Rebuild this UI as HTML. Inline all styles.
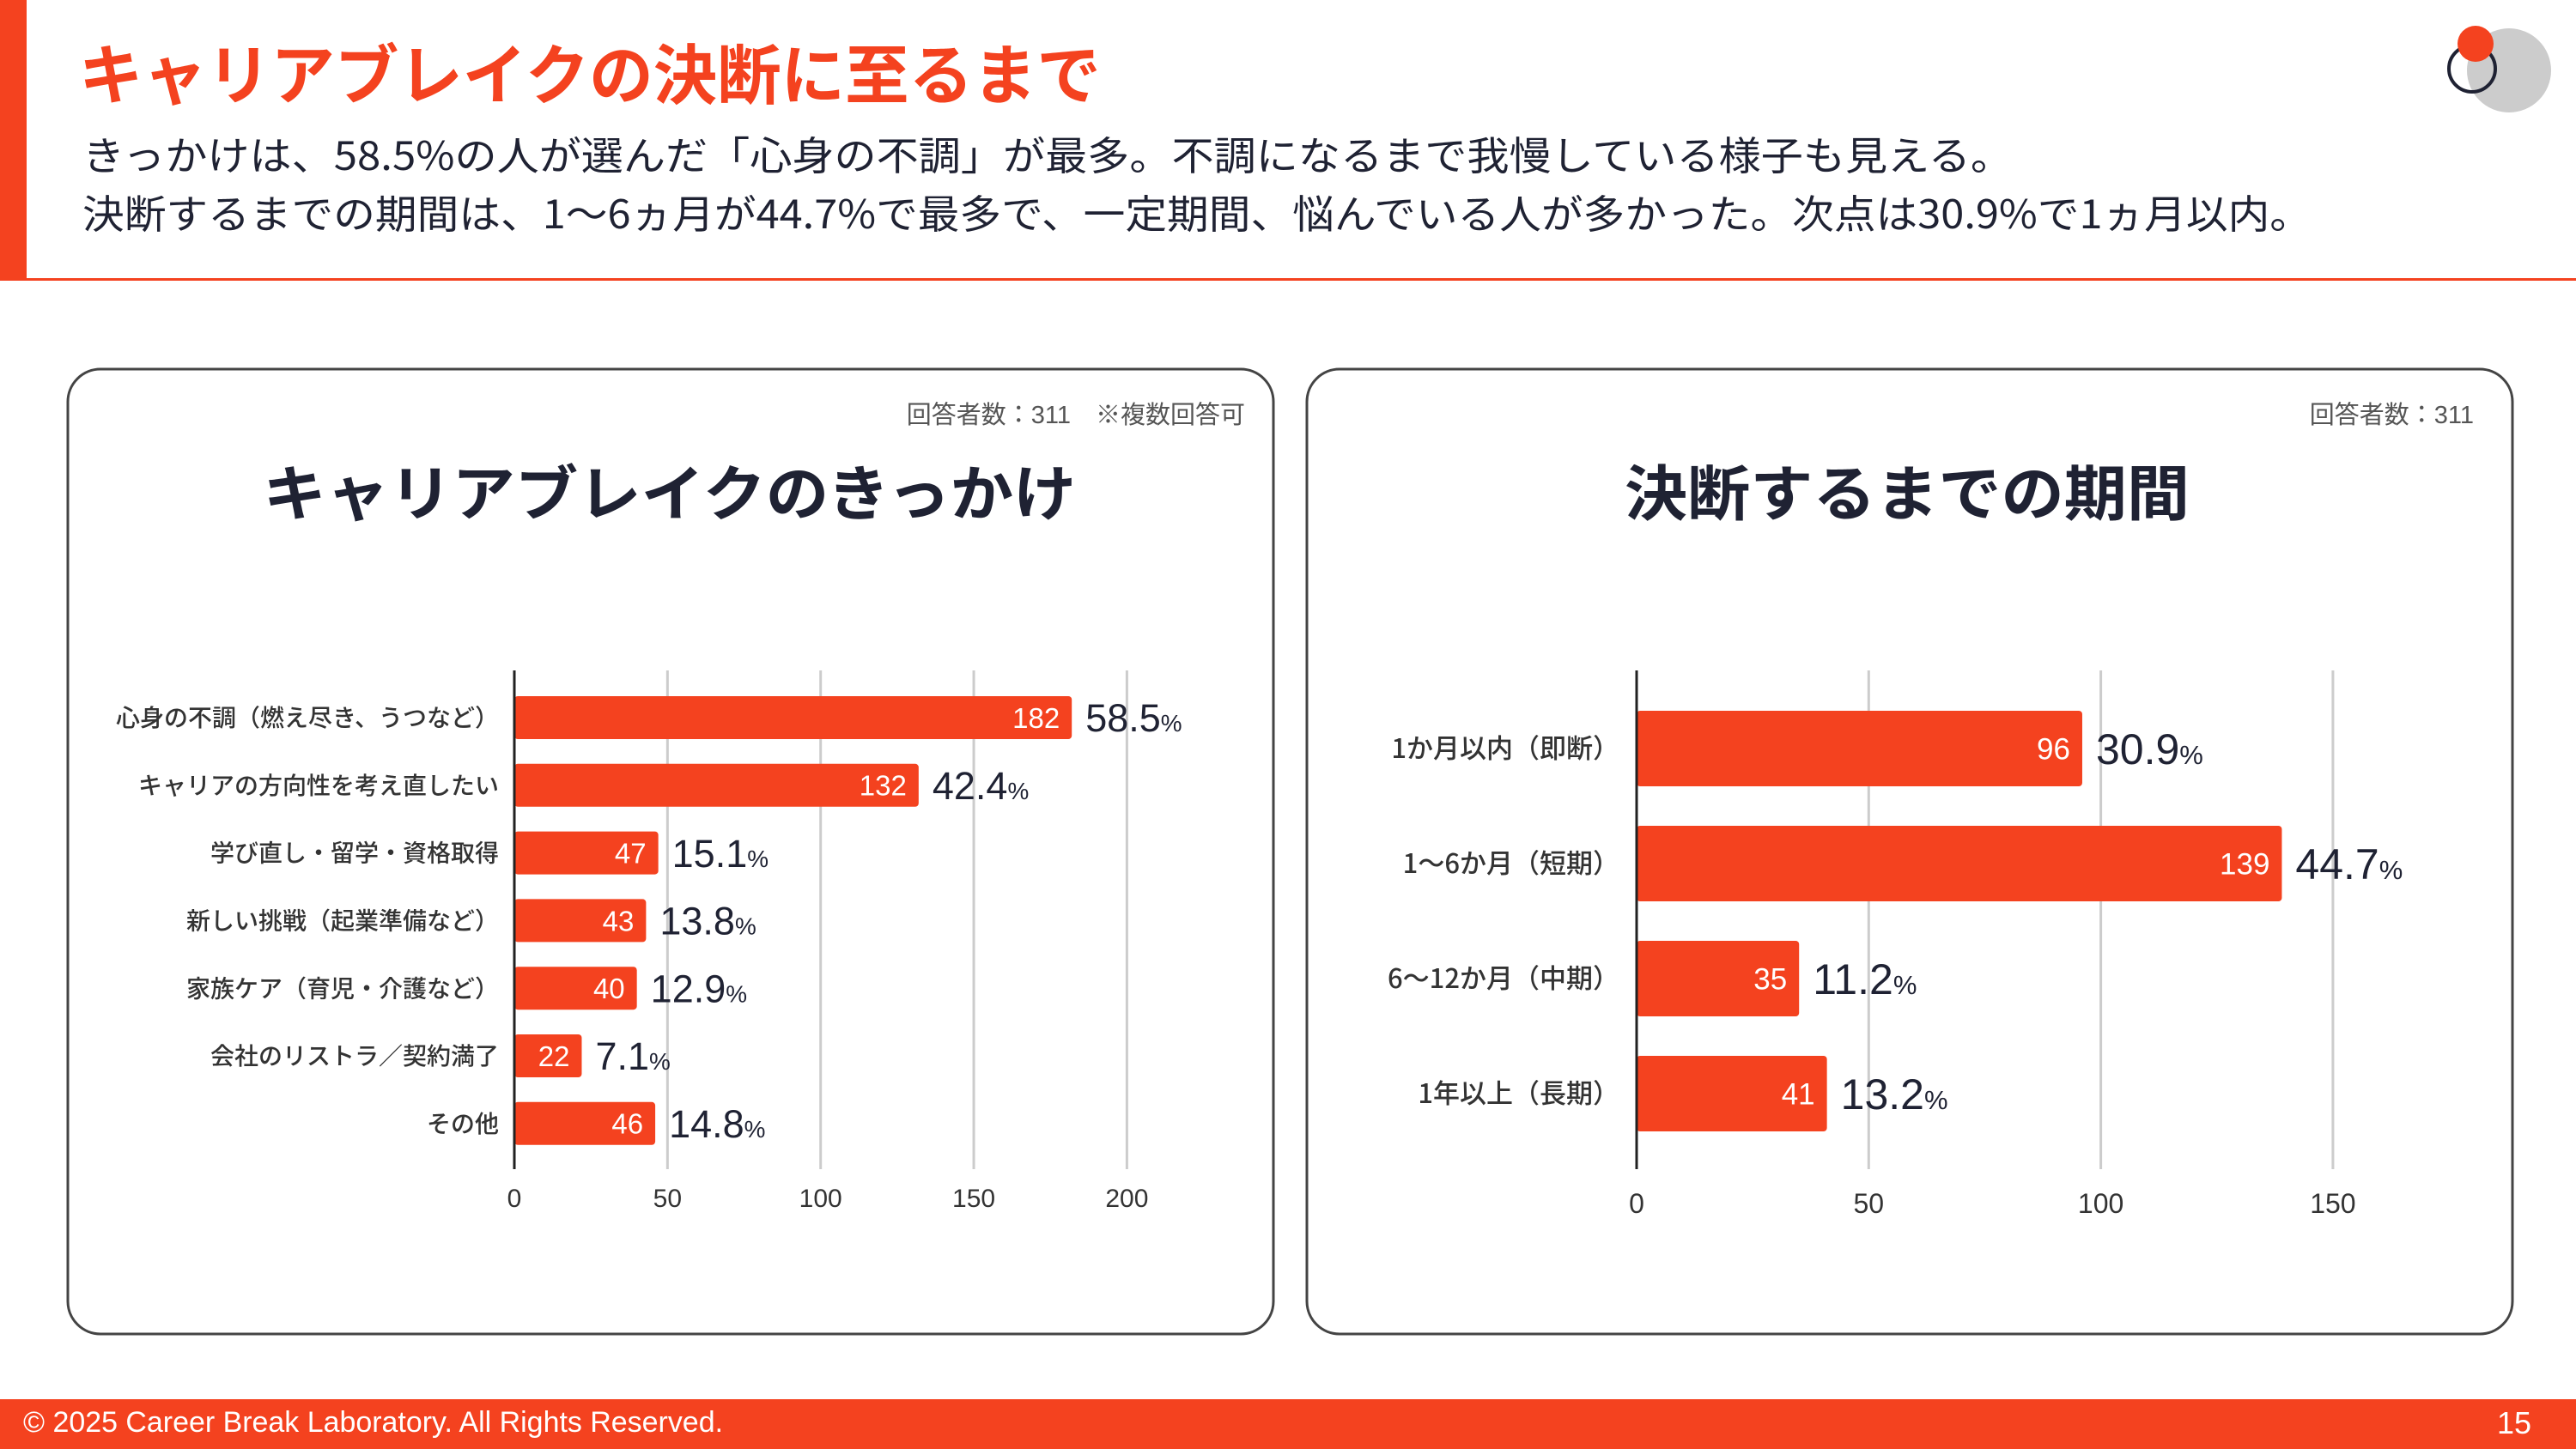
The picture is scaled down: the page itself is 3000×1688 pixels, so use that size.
<!DOCTYPE html>
<html><head><meta charset="utf-8"><style>
html,body{margin:0;padding:0;background:#fff}
svg{display:block;font-family:"Liberation Sans","Noto Sans CJK JP",sans-serif}
</style></head><body>
<svg id="s" width="3000" height="1688" viewBox="0 0 3000 1688" xmlns="http://www.w3.org/2000/svg">
<rect x="0" y="0" width="31" height="326" fill="#f4421f"/>
<rect x="0" y="324" width="3000" height="3" fill="#f4421f"/>
<text x="92" y="115" font-size="76" font-weight="bold" fill="#f4421f" textLength="1190" lengthAdjust="spacingAndGlyphs" font-family="Noto Sans CJK JP, sans-serif">キャリアブレイクの決断に至るまで</text>
<text x="96" y="198" font-size="46" fill="#1f2233" textLength="2248" lengthAdjust="spacingAndGlyphs" font-family="Noto Sans CJK JP, sans-serif">きっかけは、58.5%の人が選んだ「心身の不調」が最多。不調になるまで我慢している様子も見える。</text>
<text x="96" y="266" font-size="46" fill="#1f2233" textLength="2596" lengthAdjust="spacingAndGlyphs" font-family="Noto Sans CJK JP, sans-serif">決断するまでの期間は、1〜6ヵ月が44.7%で最多で、一定期間、悩んでいる人が多かった。次点は30.9%で1ヵ月以内。</text>
<g>
<circle cx="2922" cy="82" r="49" fill="#cccccc"/>
<circle cx="2879" cy="80" r="27" fill="none" stroke="#1f2233" stroke-width="4"/>
<circle cx="2883" cy="51" r="21" fill="#f4421f"/>
</g>
<rect x="79" y="430" width="1404" height="1124" rx="38" fill="#fff" stroke="#444" stroke-width="3"/>
<rect x="1522" y="430" width="1404" height="1124" rx="38" fill="#fff" stroke="#444" stroke-width="3"/>
<text x="1450" y="493" font-size="29" fill="#555" text-anchor="end">回答者数：311　※複数回答可</text>
<text x="2881" y="493" font-size="29" fill="#555" text-anchor="end">回答者数：311</text>
<text x="780" y="600" font-size="70" font-weight="bold" fill="#1f2233" text-anchor="middle" textLength="947" lengthAdjust="spacingAndGlyphs">キャリアブレイクのきっかけ</text>
<text x="2221" y="600" font-size="70" font-weight="bold" fill="#1f2233" text-anchor="middle" textLength="658" lengthAdjust="spacingAndGlyphs">決断するまでの期間</text>
<g id="left"></g>
<g id="right"></g>
<rect x="0" y="1630" width="3000" height="58" fill="#f4421f"/>
<text x="27" y="1668" font-size="34" fill="#fff" textLength="815" lengthAdjust="spacingAndGlyphs">© 2025 Career Break Laboratory. All Rights Reserved.</text>
<text x="2948" y="1670" font-size="36" fill="#fff" text-anchor="end">15</text>
</svg>
<script>
const leftCategories=["心身の不調（燃え尽き、うつなど）","キャリアの方向性を考え直したい","学び直し・留学・資格取得","新しい挑戦（起業準備など）","家族ケア（育児・介護など）","会社のリストラ／契約満了","その他"];
const leftValues=[182,132,47,43,40,22,46];
const leftPercents=["58.5","42.4","15.1","13.8","12.9","7.1","14.8"];
const leftTicks=[0,50,100,150,200];
const rightCategories=["1か月以内（即断）","1〜6か月（短期）","6〜12か月（中期）","1年以上（長期）"];
const rightValues=[96,139,35,41];
const rightPercents=["30.9","44.7","11.2","13.2"];
const rightTicks=[0,50,100,150];
const NS="http://www.w3.org/2000/svg";
function mk(parent,tag,attrs,text){const e=document.createElementNS(NS,tag);for(const k in attrs)e.setAttribute(k,attrs[k]);if(text!==undefined)e.textContent=text;parent.appendChild(e);return e;}
function chart(gid,cfg){
  const g=document.getElementById(gid);
  const x=v=>cfg.x0+v*cfg.pxPerUnit;
  const y=i=>cfg.firstY+cfg.step*i;
  cfg.ticks.forEach(t=>{
    if(t>0){const l=mk(g,'line',{x1:x(t),x2:x(t),y1:cfg.yTop,y2:cfg.yBottom,stroke:'#cccccc','stroke-width':3});
    
    }
    const tl=mk(g,'text',{x:x(t),y:cfg.tickY,'font-size':cfg.tickFs,fill:'#333','text-anchor':'middle'},String(t));
    
    
  });
  cfg.cats.forEach((c,i)=>{
    const v=cfg.vals[i],cy=y(i);
    const b=mk(g,'rect',{x:x(0),y:cy-cfg.barH/2,width:x(v)-x(0),height:cfg.barH,rx:4,fill:'#f4421f'});
    
    
    const cl=mk(g,'text',{x:cfg.x0-cfg.labelGap,y:cy+cfg.catFs*0.36,'font-size':cfg.catFs,'font-weight':'500',fill:'#333','text-anchor':'end','font-family':'Noto Sans CJK JP, sans-serif'},c);
    
    
    const vl=mk(g,'text',{x:x(v)-14,y:cy+cfg.valFs*0.36,'font-size':cfg.valFs,fill:'#fff','text-anchor':'end'},String(v));
    
    
    const pl=mk(g,'text',{x:x(v)+16,y:cy+cfg.pctFs*0.36,'font-size':cfg.pctFs,fill:'#1f2233'});
    
    
    mk(pl,'tspan',{},cfg.pcts[i]);
    mk(pl,'tspan',{'font-size':cfg.pctFs*0.62},'%');
  });
  const ax=mk(g,'line',{x1:cfg.x0,x2:cfg.x0,y1:cfg.yTop,y2:cfg.yBottom,stroke:'#222','stroke-width':3});
  
  
}
chart('left',{cats:leftCategories,vals:leftValues,pcts:leftPercents,ticks:leftTicks,x0:599,pxPerUnit:3.567,yTop:781,yBottom:1362,firstY:836,step:78.8,barH:50,tickY:1406,tickFs:30,catFs:28,valFs:33,pctFs:45,labelGap:18});
chart('right',{cats:rightCategories,vals:rightValues,pcts:rightPercents,ticks:rightTicks,x0:1906,pxPerUnit:5.406,yTop:781,yBottom:1362,firstY:872,step:134,barH:88,tickY:1413,tickFs:32,catFs:31,valFs:35,pctFs:50,labelGap:20});
</script>
</body></html>
